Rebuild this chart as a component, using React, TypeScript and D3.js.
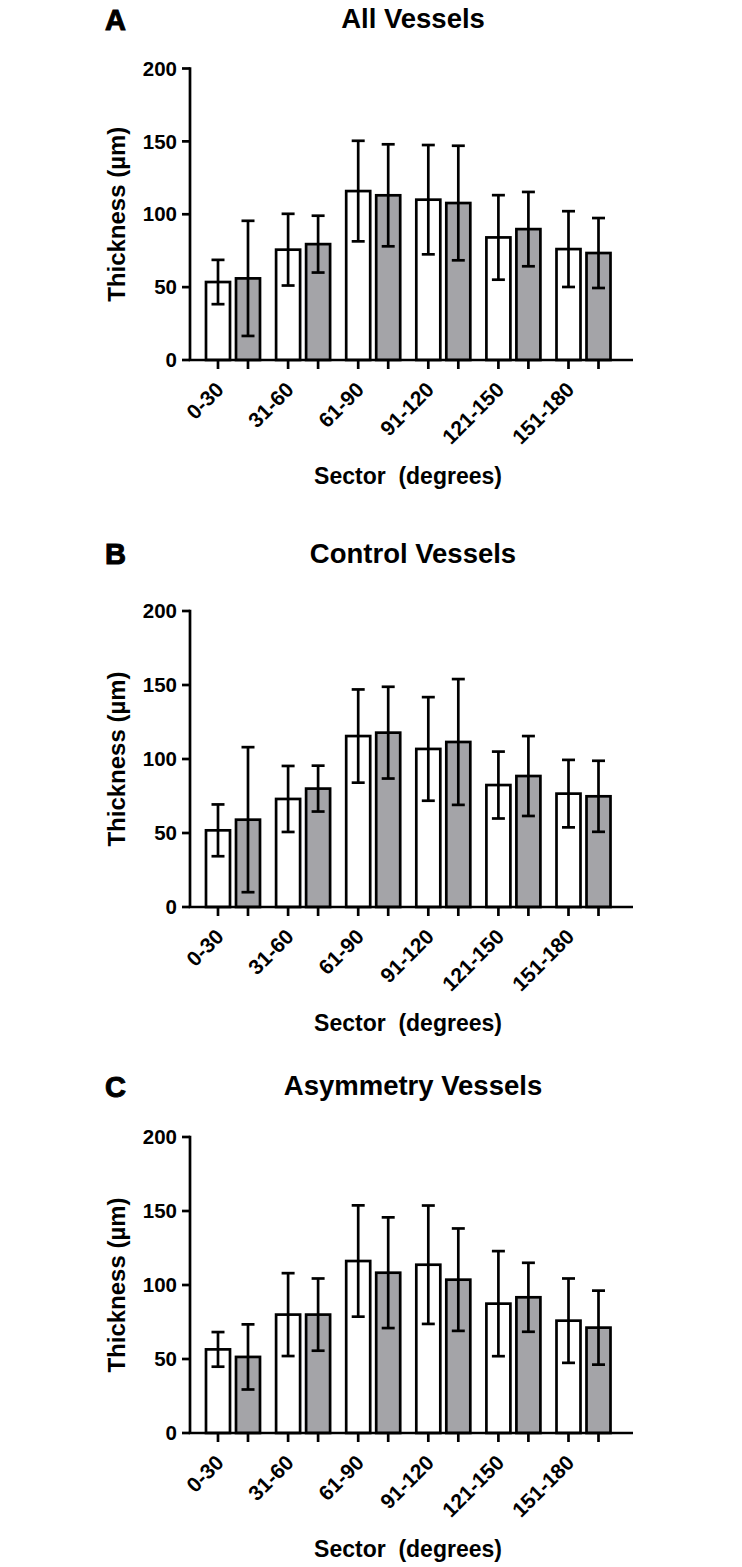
import React from "react";
import * as d3 from "d3";

const categories = ["0-30", "31-60", "61-90", "91-120", "121-150", "151-180"];
const yTicks = [0, 50, 100, 150, 200];

const allWhiteMean = [53.5, 75.7, 115.9, 110, 84.1, 76.1];
const allWhiteErr = [15.2, 24.6, 34.5, 37.5, 29, 26];
const allGrayMean = [56, 79.5, 113, 107.7, 89.8, 73.4];
const allGrayErr = [39.5, 19.5, 35, 39.3, 25.5, 24];

const controlWhiteMean = [51.8, 73, 115.5, 106.8, 82.4, 76.6];
const controlWhiteErr = [17.5, 22.3, 31.5, 35, 22.6, 22.8];
const controlGrayMean = [59, 80, 117.8, 111.5, 88.5, 74.8];
const controlGrayErr = [49, 15.5, 31, 42.5, 27, 24];

const asymWhiteMean = [56.5, 80, 116.2, 113.7, 87.4, 75.9];
const asymWhiteErr = [11.7, 28, 37.6, 40, 35.5, 28.5];
const asymGrayMean = [51.4, 80, 108.3, 103.6, 91.7, 71.2];
const asymGrayErr = [22, 24.4, 37.4, 34.6, 23.3, 25];

const FONT = "'Liberation Sans', Arial, Helvetica, sans-serif";
const SW = 2.7;
const GRAY = "#a4a4a8";

type PanelProps = {
  letter: string;
  title: string;
  yBottom: number;
  yTop: number;
  titleY: number;
  letterY: number;
  whiteMean: number[];
  whiteErr: number[];
  grayMean: number[];
  grayErr: number[];
};

const axisX = 190;
const axisEnd = 633;

function Panel(p: PanelProps) {
  const x = d3.scaleBand<string>().domain(categories).range([203, 613.5]).paddingInner(0.144).paddingOuter(0);
  const sub = d3.scaleBand<string>().domain(["w", "g"]).range([0, x.bandwidth()]).paddingInner(0.2).paddingOuter(0.1);
  const y = d3.scaleLinear().domain([0, 200]).range([p.yBottom, p.yTop]);
  const series = [
    { key: "w", mean: p.whiteMean, err: p.whiteErr, fill: "#ffffff" },
    { key: "g", mean: p.grayMean, err: p.grayErr, fill: GRAY },
  ];
  const capW = 13;
  return (
    <g>
      <text x={105} y={p.letterY} fontFamily={FONT} fontWeight={900} fontSize={29} stroke="#000" strokeWidth={1}>
        {p.letter}
      </text>
      <text x={413} y={p.titleY} textAnchor="middle" fontFamily={FONT} fontWeight={700} fontSize={27.5}>
        {p.title}
      </text>
      {series.map((s) =>
        categories.map((c, i) => {
          const bx = (x(c) as number) + (sub(s.key) as number);
          const bw = sub.bandwidth();
          const cx = bx + bw / 2;
          const top = y(s.mean[i]);
          return (
            <g key={s.key + c}>
              <rect x={bx} y={top} width={bw} height={p.yBottom - top} fill={s.fill} stroke="#000" strokeWidth={SW} />
              <line x1={cx} x2={cx} y1={y(s.mean[i] + s.err[i])} y2={y(s.mean[i] - s.err[i])} stroke="#000" strokeWidth={SW} />
              <line x1={cx - capW / 2} x2={cx + capW / 2} y1={y(s.mean[i] + s.err[i])} y2={y(s.mean[i] + s.err[i])} stroke="#000" strokeWidth={SW} />
              <line x1={cx - capW / 2} x2={cx + capW / 2} y1={y(s.mean[i] - s.err[i])} y2={y(s.mean[i] - s.err[i])} stroke="#000" strokeWidth={SW} />
              <line x1={cx} x2={cx} y1={p.yBottom} y2={p.yBottom + 9} stroke="#000" strokeWidth={SW} />
            </g>
          );
        })
      )}
      <line x1={axisX} x2={axisX} y1={p.yTop - SW / 2} y2={p.yBottom} stroke="#000" strokeWidth={SW} />
      <line x1={axisX - SW / 2} x2={axisEnd} y1={p.yBottom} y2={p.yBottom} stroke="#000" strokeWidth={SW} />
      {yTicks.map((t) => (
        <g key={t}>
          <line x1={axisX - 8} x2={axisX} y1={y(t)} y2={y(t)} stroke="#000" strokeWidth={SW} />
          <text x={177} y={y(t)} dy="0.35em" textAnchor="end" fontFamily={FONT} fontWeight={700} fontSize={20.5}>
            {t}
          </text>
        </g>
      ))}
      {categories.map((c) => {
        const ax = (x(c) as number) + (sub("w") as number) + sub.bandwidth() / 2 + 7;
        const ay = p.yBottom + 31;
        return (
          <text key={c} x={ax} y={ay} transform={`rotate(-45 ${ax} ${ay})`} textAnchor="end" fontFamily={FONT} fontWeight={700} fontSize={21}>
            {c}
          </text>
        );
      })}
      <text
        x={0}
        y={0}
        transform={`translate(125 ${(p.yTop + p.yBottom) / 2}) rotate(-90)`}
        textAnchor="middle"
        fontFamily={FONT}
        fontWeight={700}
        fontSize={24}
      >
        Thickness (µm)
      </text>
      <text x={408} y={p.yBottom + 124} textAnchor="middle" fontFamily={FONT} fontWeight={700} fontSize={23} style={{ whiteSpace: "pre" }}>
        {"Sector  (degrees)"}
      </text>
    </g>
  );
}

export default function App() {
  return (
    <svg width={742} height={1567} style={{ position: "absolute", left: 0, top: 0, display: "block", background: "#fff" }}>
      <rect width={742} height={1567} fill="#fff" />
      <Panel letter="A" title="All Vessels" yBottom={360} yTop={68.5} titleY={28} letterY={30}
        whiteMean={allWhiteMean} whiteErr={allWhiteErr} grayMean={allGrayMean} grayErr={allGrayErr} />
      <Panel letter="B" title="Control Vessels" yBottom={907} yTop={611} titleY={563} letterY={564}
        whiteMean={controlWhiteMean} whiteErr={controlWhiteErr} grayMean={controlGrayMean} grayErr={controlGrayErr} />
      <Panel letter="C" title="Asymmetry Vessels" yBottom={1433} yTop={1137} titleY={1095} letterY={1097}
        whiteMean={asymWhiteMean} whiteErr={asymWhiteErr} grayMean={asymGrayMean} grayErr={asymGrayErr} />
    </svg>
  );
}
